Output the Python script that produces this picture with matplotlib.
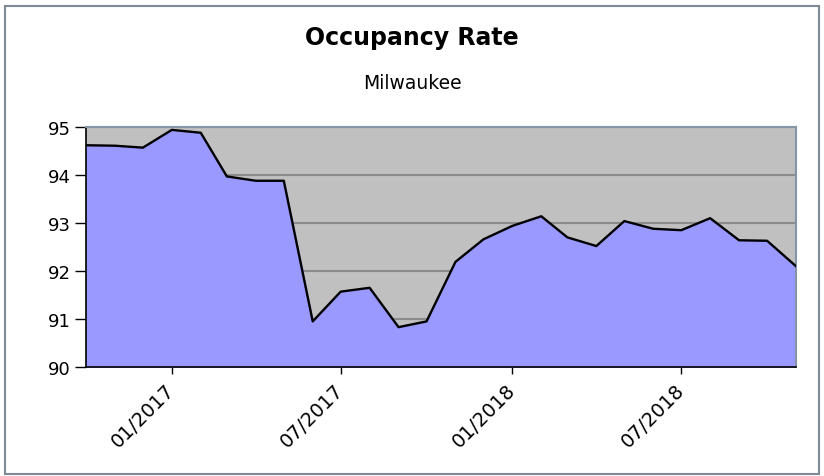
import numpy as np
import pandas as pd
import matplotlib
matplotlib.use('Agg')
import matplotlib.pyplot as plt
import matplotlib.dates as mdates
from matplotlib.patches import Rectangle

# monthly occupancy, Milwaukee
months = ['2016-10', '2016-11', '2016-12', '2017-01', '2017-02', '2017-03', '2017-04',
          '2017-05', '2017-06', '2017-07', '2017-08', '2017-09', '2017-10', '2017-11',
          '2017-12', '2018-01', '2018-02', '2018-03', '2018-04', '2018-05', '2018-06',
          '2018-07', '2018-08', '2018-09', '2018-10', '2018-11']
occupancy = [94.62, 94.61, 94.57, 94.94, 94.88, 93.97, 93.88, 93.88, 90.95, 91.57,
             91.65, 90.83, 90.95, 92.19, 92.66, 92.94, 93.14, 92.70, 92.52, 93.04,
             92.88, 92.85, 93.10, 92.64, 92.63, 92.10]
tick_months = ['2017-01', '2017-07', '2018-01', '2018-07']
y_ticks = [90, 91, 92, 93, 94, 95]

dates = pd.to_datetime(months)
ticks = pd.to_datetime(tick_months)

fig = plt.figure(figsize=(8.24, 4.77), dpi=100)
fig.patches.append(Rectangle((5 / 824, 2 / 477), 814 / 824, 468 / 477, transform=fig.transFigure,
                             fill=False, edgecolor='#7f8996', linewidth=1.5))

ax = fig.add_axes([86 / 824, 109 / 477, 710 / 824, 240 / 477])
ax.set_facecolor('#c0c0c0')
ax.fill_between(dates, 90, occupancy, color='#9999ff', zorder=2)
ax.plot(dates, occupancy, color='black', linewidth=1.7, zorder=3)

ax.set_xlim(dates[0], dates[-1])
ax.set_ylim(90, 95)
ax.set_yticks(y_ticks)
ax.yaxis.grid(True, color='#8c8c8c', linewidth=1.5, zorder=1)
ax.set_axisbelow(True)

ax.set_xticks(ticks)
ax.xaxis.set_major_formatter(mdates.DateFormatter('%m/%Y'))
ax.tick_params(axis='both', labelsize=13, length=5, width=1, color='black', pad=4)
ax.tick_params(axis='y', length=8, pad=3)
ax.tick_params(axis='x', labelsize=14, pad=9)
for lab in ax.get_xticklabels():
    lab.set_rotation(45)
    lab.set_ha('right')
    lab.set_va('center')
    lab.set_rotation_mode('anchor')

for side in ['left', 'bottom']:
    ax.spines[side].set_color('black')
    ax.spines[side].set_linewidth(1.2)
for side in ['top', 'right']:
    ax.spines[side].set_color('#8595a8')
    ax.spines[side].set_linewidth(1.5)

fig.text(0.5, 1 - 38 / 477, 'Occupancy Rate', ha='center', va='center', fontsize=17, fontweight='bold')
fig.text(0.5, 1 - 84 / 477, 'Milwaukee', ha='center', va='center', fontsize=13.5)

fig.savefig('out.png', dpi=100)
